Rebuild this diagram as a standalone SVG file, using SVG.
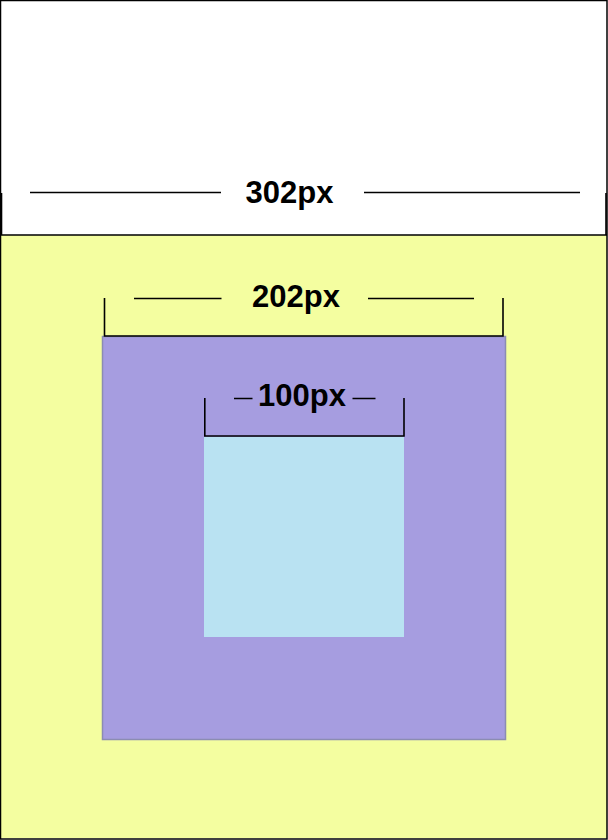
<svg xmlns="http://www.w3.org/2000/svg" width="608" height="840" viewBox="0 0 608 840">
<style>
.dim{stroke:#000;stroke-width:1.3;fill:none}
.brk{stroke:#000;stroke-width:1.6;fill:none}
.lbl{font-family:"Liberation Sans",Arial,sans-serif;font-weight:bold;font-size:31px;fill:#000;text-anchor:middle}
</style>
<g id="outer">
<rect x="0" y="0" width="608" height="840" fill="#ffffff"/>
<rect x="1" y="235" width="606" height="603" fill="#f4fea0"/>
<rect x="0.5" y="0.5" width="606.5" height="838.5" fill="none" stroke="#000" stroke-width="1.5"/>
</g>
<g id="middle">
<rect x="102.5" y="336.5" width="403" height="403" fill="#a69de0" stroke="#8b8cb2" stroke-width="1.5"/>
</g>
<g id="inner">
<rect x="204" y="437" width="200" height="200" fill="#b9e2f2"/>
</g>
<g id="dimensions">
<path class="brk" d="M1.5,193 V235 M0,235 H607 M606,193 V235"/>
<path class="dim" d="M30,192.5 H221 M364,192.5 H580"/>
<text class="lbl" x="289.5" y="203">302px</text>
<path class="brk" d="M104.5,298 V336 H503 V298"/>
<path class="dim" d="M134,298.5 H221.5 M368,298.5 H474"/>
<text class="lbl" x="296" y="307">202px</text>
<path class="brk" d="M204.8,398 V436 H404 V398"/>
<path class="dim" d="M234,398.5 H252.5 M352.5,398.5 H375.5"/>
<text class="lbl" x="302" y="406">100px</text>
</g>
</svg>
